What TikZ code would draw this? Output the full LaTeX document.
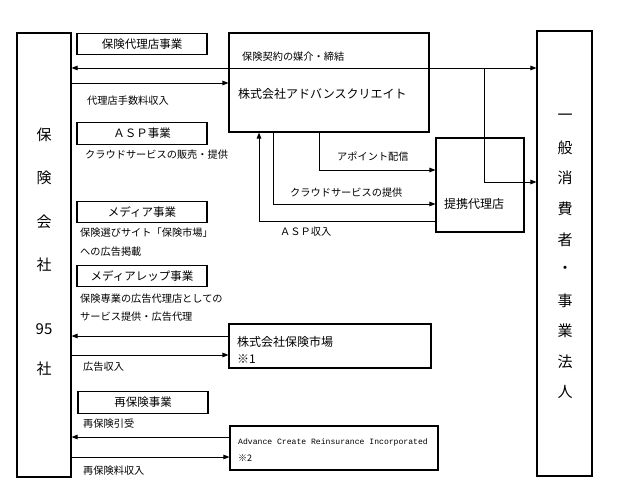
\documentclass[tikz,border=0pt]{standalone}
\usepackage{fontspec}
\setmainfont{Noto Sans CJK JP}
\newfontfamily\monof{Liberation Mono}
\usetikzlibrary{arrows.meta}
\begin{document}
\begin{tikzpicture}[x=1pt,y=-1pt,
  box/.style={draw,line width=1.1pt,inner sep=0pt},
  head/.style={box,minimum width=130pt,minimum height=21.5pt,font=\fontsize{11.5}{12}\selectfont},
  lbl/.style={anchor=west,inner sep=0pt,font=\fontsize{10.2}{11}\selectfont},
  big/.style={anchor=west,inner sep=0pt,font=\fontsize{12}{13}\selectfont},
  col/.style={inner sep=0pt,font=\fontsize{15}{16}\selectfont},
  conn/.style={line width=0.9pt,-{Triangle[length=6pt,width=4.5pt]}},
  conn2/.style={line width=0.9pt,{Triangle[length=6pt,width=4.5pt]}-{Triangle[length=6pt,width=4.5pt]}}]
\useasboundingbox (0,0) rectangle (620,500);

% main boxes
\node[box,minimum width=54pt,minimum height=444pt] (L) at (44,255) {};
\node[box,minimum width=55pt,minimum height=445pt] (R) at (564.5,253.5) {};
\node[box,minimum width=200pt,minimum height=99pt] (A) at (329,82.5) {};
\node[box,minimum width=88pt,minimum height=94pt] (T) at (480,185) {};
\node[box,minimum width=202pt,minimum height=44pt] (H) at (330,346) {};
\node[box,minimum width=208pt,minimum height=44pt] (C) at (334,448) {};

% vertical texts
\node[col] (l1) at (44,135) {保};
\node[col] (l2) at (44,178) {険};
\node[col] (l3) at (44,222) {会};
\node[col] (l4) at (44,265) {社};
\node[col] (l5) at (44,329) {95};
\node[col] (l6) at (44,369) {社};
\foreach \c [count=\i from 0] in {一,般,消,費,者,・,事,業,法,人}
  \node[col] (r\i) at (565,117+30.6*\i) {\c};

% box labels
\node[big] (At) at (238,94) {株式会社アドバンスクリエイト};
\node[big] (Tt) at (444,204) {提携代理店};
\node[big] (Ht1) at (237,342) {株式会社保険市場};
\node[big] (Ht2) at (237,359) {※1};
\node[anchor=west,inner sep=0pt,font=\monof\fontsize{8.1}{9}\selectfont] (Ct1) at (238,442) {Advance Create Reinsurance Incorporated};
\node[anchor=west,inner sep=0pt,font=\fontsize{9}{10}\selectfont] (Ct2) at (238,458) {※2};

% heading boxes
\node[head] (h1) at (142,44) {保険代理店事業};
\node[head] (h2) at (142,133.5) {ＡＳＰ事業};
\node[head] (h3) at (142,212) {メディア事業};
\node[head] (h4) at (142,276) {メディアレップ事業};
\node[head] (h5) at (143,402.5) {再保険事業};

% small labels
\node[lbl] (t1) at (242,57) {保険契約の媒介・締結};
\node[lbl] (t2) at (87,101) {代理店手数料収入};
\node[lbl] (t3) at (85,155) {クラウドサービスの販売・提供};
\node[lbl] (t4) at (337,157) {アポイント配信};
\node[lbl] (t5) at (290,193) {クラウドサービスの提供};
\node[lbl] (t6) at (280,232) {ＡＳＰ収入};
\node[lbl] (t7) at (80,233) {保険選びサイト「保険市場」};
\node[lbl] (t8) at (80,252) {への広告掲載};
\node[lbl] (t9) at (80,299) {保険専業の広告代理店としての};
\node[lbl] (t10) at (80,317) {サービス提供・広告代理};
\node[lbl] (t11) at (83,367) {広告収入};
\node[lbl] (t12) at (83,424) {再保険引受};
\node[lbl] (t13) at (83,471) {再保険料収入};

% coordinates
\coordinate (y68) at (0,68);
\coordinate (y83) at (0,83);
\coordinate (y182) at (0,182);
\coordinate (y170) at (0,170);
\coordinate (y204) at (0,204);
\coordinate (y221) at (0,221);
\coordinate (y336) at (0,336);
\coordinate (y355) at (0,355);
\coordinate (y437) at (0,437);
\coordinate (y457) at (0,457);
\coordinate (j1) at (484,68);
\coordinate (x319) at (319,0);
\coordinate (x273) at (273,0);
\coordinate (x259) at (259,0);

% connectors
\draw[conn2] (L.east |- y68) -- (R.west |- y68);
\draw[conn] (L.east |- y83) -- (A.west |- y83);
\draw[conn] (j1) |- (R.west |- y182);
\draw[conn] (A.south -| x319) |- (T.west |- y170);
\draw[conn] (A.south -| x273) |- (T.west |- y204);
\draw[conn] (T.west |- y221) -| (A.south -| x259);
\draw[conn] (H.west |- y336) -- (L.east |- y336);
\draw[conn] (L.east |- y355) -- (H.west |- y355);
\draw[conn] (C.west |- y437) -- (L.east |- y437);
\draw[conn] (L.east |- y457) -- (C.west |- y457);
\end{tikzpicture}
\end{document}
